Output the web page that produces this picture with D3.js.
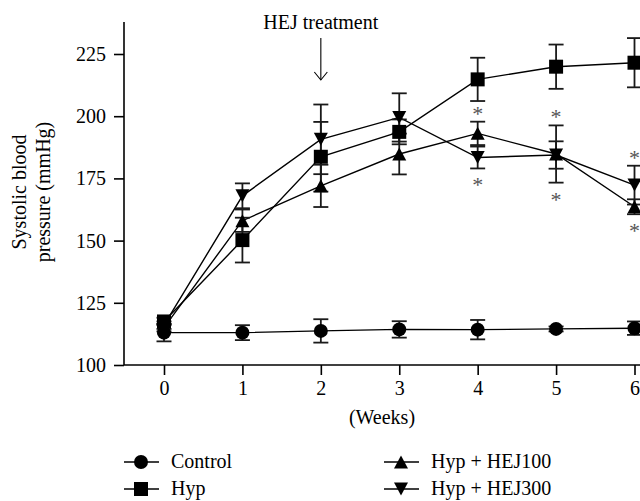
<!DOCTYPE html>
<html>
<head>
<meta charset="utf-8">
<script src="https://cdn.jsdelivr.net/npm/d3@7"></script>
<style>
  body { margin: 0; background: #fff; }
  svg { display: block; }
  svg text { font-family: "Liberation Serif", "DejaVu Serif", serif; }
</style>
</head>
<body>
<svg id="chart" width="640" height="501"></svg>
<script>
// values (mean and error per week)
const weeks = [0, 1, 2, 3, 4, 5, 6]
const yTicks = [100, 125, 150, 175, 200, 225]

const control = [113, 113, 113.7, 114.3, 114.2, 114.5, 114.8]
const controlErr = [3.5, 3, 4.7, 3.3, 3.9, 1, 2.7]
const hyp = [117.5, 150.2, 183.7, 193.7, 214.8, 219.9, 221.5]
const hypErr = [1.5, 9, 14, 5, 8.7, 8.9, 9.9]
const hej100 = [115, 158, 172, 184.8, 193.1, 184.8, 163.6]
const hej100Err = [1.5, 4.5, 8.5, 8.2, 4.7, 11.5, 3]
const hej300 = [116, 168, 190.7, 199.5, 183.4, 184.4, 172.3]
const hej300Err = [1.5, 5, 14, 9.7, 4.4, 5.5, 7.8]

const treatmentWeek = 2
const sigWeeks = [4, 5, 6]

const series = [
  {name: "Control", values: control, errs: controlErr, symbol: "circle"},
  {name: "Hyp", values: hyp, errs: hypErr, symbol: "square"},
  {name: "Hyp + HEJ100", values: hej100, errs: hej100Err, symbol: "up"},
  {name: "Hyp + HEJ300", values: hej300, errs: hej300Err, symbol: "down"}
]

const width = 640
const margin = {left: 124, bottom: 365, top: 22}
const fontSize = 20
const serif = "Liberation Serif, DejaVu Serif, serif"
const capHalf = 7.5

const x = d3.scaleLinear().domain([0, 6]).range([164, 634.5])
const y = d3.scaleLinear().domain([100, 225]).range([365, 54])

const svg = d3.select("#chart")

function symbolPath(type) {
  const p = d3.path()
  const r = 7
  if (type === "circle") {
    p.arc(0, 0, r, 0, 2 * Math.PI)
  } else if (type === "square") {
    p.rect(-r, -r, 2 * r, 2 * r)
  } else {
    const s = type === "up" ? 1 : -1
    p.moveTo(0, -6.5 * s)
    p.lineTo(r, 6.5 * s)
    p.lineTo(-r, 6.5 * s)
    p.closePath()
  }
  return p.toString()
}

// axes
const yAxis = svg.append("g")
  .attr("transform", `translate(${margin.left},0)`)
  .call(d3.axisLeft(y).tickValues(yTicks).tickSize(10).tickPadding(8))
yAxis.select(".domain").remove()

const xAxis = svg.append("g")
  .attr("transform", `translate(0,${margin.bottom})`)
  .call(d3.axisBottom(x).tickValues(weeks).tickSize(10).tickPadding(6).tickFormat(d3.format("d")))
xAxis.select(".domain").remove()

svg.selectAll("g").attr("font-family", serif)
svg.selectAll(".tick text")
  .attr("font-size", fontSize)
  .attr("fill", "#000")
svg.selectAll(".tick line")
  .attr("stroke", "#000")
  .attr("stroke-width", 1.6)

svg.append("line")
  .attr("x1", margin.left).attr("x2", margin.left)
  .attr("y1", margin.top).attr("y2", margin.bottom)
  .attr("stroke", "#000").attr("stroke-width", 1.6)
svg.append("line")
  .attr("x1", margin.left).attr("x2", width)
  .attr("y1", margin.bottom).attr("y2", margin.bottom)
  .attr("stroke", "#000").attr("stroke-width", 1.6)

// axis titles
const yTitle = svg.append("g")
  .attr("transform", "translate(0,192) rotate(-90)")
  .attr("font-size", fontSize)
  .attr("text-anchor", "middle")
yTitle.append("text").attr("y", 26).text("Systolic blood")
yTitle.append("text").attr("y", 50).text("pressure (mmHg)")

svg.append("text")
  .attr("x", (margin.left + width) / 2)
  .attr("y", 424)
  .attr("font-size", fontSize)
  .attr("text-anchor", "middle")
  .text("(Weeks)")

// treatment annotation
const tx = x(treatmentWeek)
svg.append("text")
  .attr("x", tx).attr("y", 29)
  .attr("font-size", fontSize)
  .attr("text-anchor", "middle")
  .text("HEJ treatment")
svg.append("line")
  .attr("x1", tx).attr("x2", tx)
  .attr("y1", 38).attr("y2", 80)
  .attr("stroke", "#000").attr("stroke-width", 1.1)
svg.append("path")
  .attr("d", `M${tx - 6.5},72L${tx},80L${tx + 6.5},72`)
  .attr("fill", "none").attr("stroke", "#000").attr("stroke-width", 1.1)

// data
const line = d3.line()
  .x((d, i) => x(weeks[i]))
  .y(d => y(d))

const plot = svg.append("g")

plot.selectAll("path.series")
  .data(series)
  .join("path")
  .attr("class", "series")
  .attr("d", d => line(d.values))
  .attr("fill", "none")
  .attr("stroke", "#000")
  .attr("stroke-width", 1.4)

const points = series.flatMap(s =>
  s.values.map((v, i) => ({week: weeks[i], v, e: s.errs[i], symbol: s.symbol}))
)

const bars = plot.selectAll("g.err")
  .data(points)
  .join("g")
  .attr("class", "err")
  .attr("stroke", "#1a1a1a")
  .attr("stroke-width", 1.8)

bars.append("line")
  .attr("x1", d => x(d.week)).attr("x2", d => x(d.week))
  .attr("y1", d => y(d.v - d.e)).attr("y2", d => y(d.v + d.e))
bars.append("line")
  .attr("x1", d => x(d.week) - capHalf).attr("x2", d => x(d.week) + capHalf)
  .attr("y1", d => y(d.v + d.e)).attr("y2", d => y(d.v + d.e))
bars.append("line")
  .attr("x1", d => x(d.week) - capHalf).attr("x2", d => x(d.week) + capHalf)
  .attr("y1", d => y(d.v - d.e)).attr("y2", d => y(d.v - d.e))

plot.selectAll("path.marker")
  .data(points)
  .join("path")
  .attr("class", "marker")
  .attr("d", d => symbolPath(d.symbol))
  .attr("transform", d => `translate(${x(d.week)},${y(d.v)})`)
  .attr("fill", "#000")

// significance marks above and below the treated groups
const treated = [hej100, hej300]
const treatedErr = [hej100Err, hej300Err]
const stars = sigWeeks.flatMap(w => {
  const i = weeks.indexOf(w)
  const hi = d3.max(treated, (s, k) => s[i] + treatedErr[k][i])
  const lo = d3.min(treated, (s, k) => s[i] - treatedErr[k][i])
  return [{week: w, cy: y(hi) - 12}, {week: w, cy: y(lo) + 13}]
})
plot.selectAll("text.star")
  .data(stars)
  .join("text")
  .attr("class", "star")
  .attr("x", d => x(d.week))
  .attr("y", d => d.cy)
  .attr("dy", "0.5em")
  .attr("text-anchor", "middle")
  .attr("font-size", 22)
  .attr("fill", "#555")
  .text("*")

// legend
const legendCols = [124, 384]
const legendRows = [462, 489]
const legend = svg.selectAll("g.legend")
  .data(series)
  .join("g")
  .attr("class", "legend")
  .attr("transform", (d, i) =>
    `translate(${legendCols[Math.floor(i / 2)]},${legendRows[i % 2]})`)

legend.append("line")
  .attr("x1", 0).attr("x2", 35)
  .attr("stroke", "#000").attr("stroke-width", 1.4)
legend.append("path")
  .attr("d", d => symbolPath(d.symbol))
  .attr("transform", "translate(17,0)")
  .attr("fill", "#000")
legend.append("text")
  .attr("x", 47)
  .attr("dy", "0.3em")
  .attr("font-size", fontSize)
  .attr("font-family", serif)
  .text(d => d.name)
</script>
</body>
</html>
